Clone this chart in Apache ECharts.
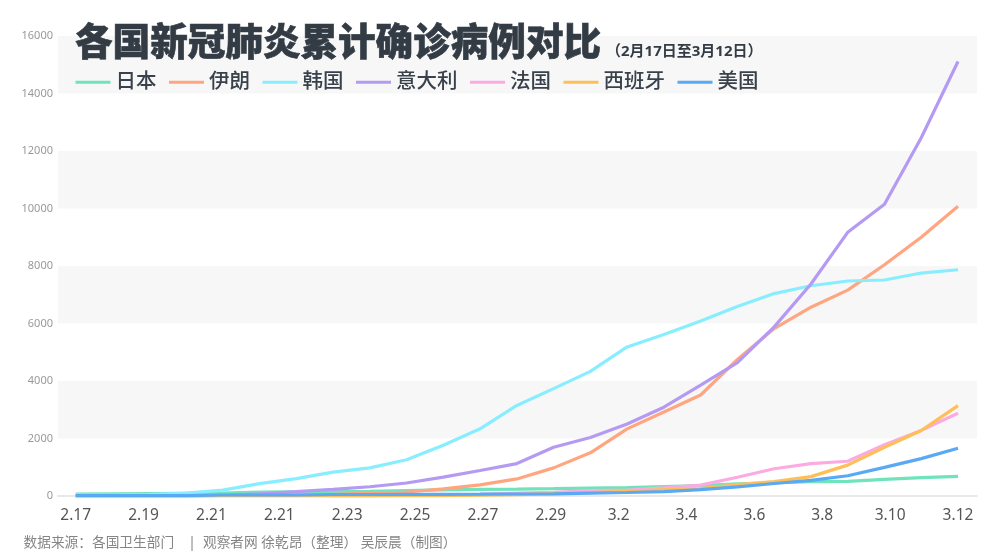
<!DOCTYPE html>
<html>
<head>
<meta charset="utf-8">
<style>html,body{margin:0;padding:0;background:#fff}#chart{width:1000px;height:558px}</style>
<script src="https://cdn.jsdelivr.net/npm/echarts@6/dist/echarts.min.js"></script>
</head>
<body>
<div id="chart"></div>
<script>
var dates = ['2.17','2.18','2.19','2.20','2.21','2.22','2.23','2.24','2.25','2.26','2.27','2.28','2.29','3.1','3.2','3.3','3.4','3.5','3.6','3.7','3.8','3.9','3.10','3.11','3.12'];
var tickLabels = ['2.17','2.19','2.21','2.21 ','2.23','2.25','2.27','2.29','3.2','3.4','3.6','3.8','3.10','3.12'];

var japan = [66,74,84,94,105,132,144,157,164,186,210,230,239,254,274,293,331,360,420,461,502,511,581,639,680];
var iran = [0,0,0,5,18,28,43,61,95,139,245,388,593,978,1501,2336,2922,3513,4747,5823,6566,7161,8042,9000,10075];
var korea = [30,31,51,104,204,433,602,833,977,1261,1766,2337,3150,3736,4335,5186,5621,6088,6593,7041,7313,7478,7513,7755,7869];
var italy = [3,3,3,3,20,79,152,229,322,453,655,888,1128,1694,2036,2502,3089,3858,4636,5883,7375,9172,10149,12462,15113];
var france = [12,12,12,12,12,12,12,12,14,18,38,57,100,130,191,204,285,377,653,949,1126,1209,1784,2281,2876];
var spain = [2,2,2,2,2,2,2,2,6,13,15,32,45,84,120,165,222,259,400,500,673,1073,1695,2277,3146];
var usa = [13,13,15,15,35,35,35,53,53,59,60,62,70,76,101,122,153,221,319,435,541,704,994,1301,1663];

var names = ['日本','伊朗','韩国','意大利','法国','西班牙','美国'];
var values = [japan,iran,korea,italy,france,spain,usa];
var colors = ['#6fe4ba','#ffa680','#88eeff','#b49af2','#fcabe2','#ffbf58','#5aa9f5'];

var FONT = '"Noto Sans","Noto Sans CJK SC",sans-serif';

var chart = echarts.init(document.getElementById('chart'));

var series = [];
for(var i = 0 ; i < names.length ; i ++){
    series.push({
        name: names[i],
        type: 'line',
        xAxisIndex: 2,
        yAxisIndex: 1,
        data: values[i],
        symbol: 'none',
        lineStyle: {width: 3.2, color: colors[i]},
        itemStyle: {color: colors[i]}
    });
}

chart.setOption({
    animation: false,
    textStyle: {fontFamily: FONT},
    title: [
        {
            text: '各国新冠肺炎累计确诊病例对比',
            left: 70, top: 21,
            textStyle: {fontSize: 37.6, fontWeight: 900, color: '#333c45', fontFamily: FONT,
                textBorderColor: '#333c45', textBorderWidth: 0.6}
        },
        {
            text: '（2月17日至3月12日）',
            left: 601, top: 39,
            textStyle: {fontSize: 15, fontWeight: 'bold', color: '#333c45', fontFamily: FONT}
        },
        {
            text: '数据来源：各国卫生部门    |  观察者网 徐乾昂（整理） 吴辰晨（制图）',
            left: 18.5, top: 531,
            textStyle: {fontSize: 13.7, fontWeight: 'normal', color: '#858585', fontFamily: FONT}
        }
    ],
    legend: {
        data: names,
        left: 70.5, top: 67,
        icon: 'rect',
        itemWidth: 35, itemHeight: 3, itemGap: 12.5,
        textStyle: {fontSize: 20.5, fontWeight: 500, color: '#39424c', fontFamily: FONT}
    },
    grid: [
        {left: 58, right: 23, top: 36, bottom: 62},
        {left: 75.7, right: 42, top: 36, bottom: 62}
    ],
    xAxis: [
        {
            type: 'category', gridIndex: 0, data: [''],
            axisLine: {lineStyle: {color: '#e8e8e8', width: 2}},
            axisTick: {show: false}, axisLabel: {show: false}
        },
        {
            type: 'category', gridIndex: 1, data: tickLabels, boundaryGap: false,
            axisLine: {show: false}, axisTick: {show: false},
            axisLabel: {interval: 0, fontSize: 15.5, color: '#555555', margin: 12, fontFamily: FONT, hideOverlap: false,
                formatter: function(v){ return v.trim(); }}
        },
        {
            type: 'category', gridIndex: 1, data: dates, boundaryGap: false, show: false
        }
    ],
    yAxis: [
        {
            type: 'value', gridIndex: 0, min: 0, max: 16000, interval: 2000,
            axisLine: {show: false}, axisTick: {show: false},
            axisLabel: {fontSize: 11, color: '#999999', margin: 5, fontFamily: FONT,
                formatter: function(v){ return String(v); }},
            splitLine: {show: false},
            splitArea: {show: true, areaStyle: {color: ['#ffffff','#f7f7f7']}}
        },
        {
            type: 'value', gridIndex: 1, min: 0, max: 16000, interval: 2000, show: false,
            splitLine: {show: false}
        }
    ],
    series: series
});
</script>
</body>
</html>
